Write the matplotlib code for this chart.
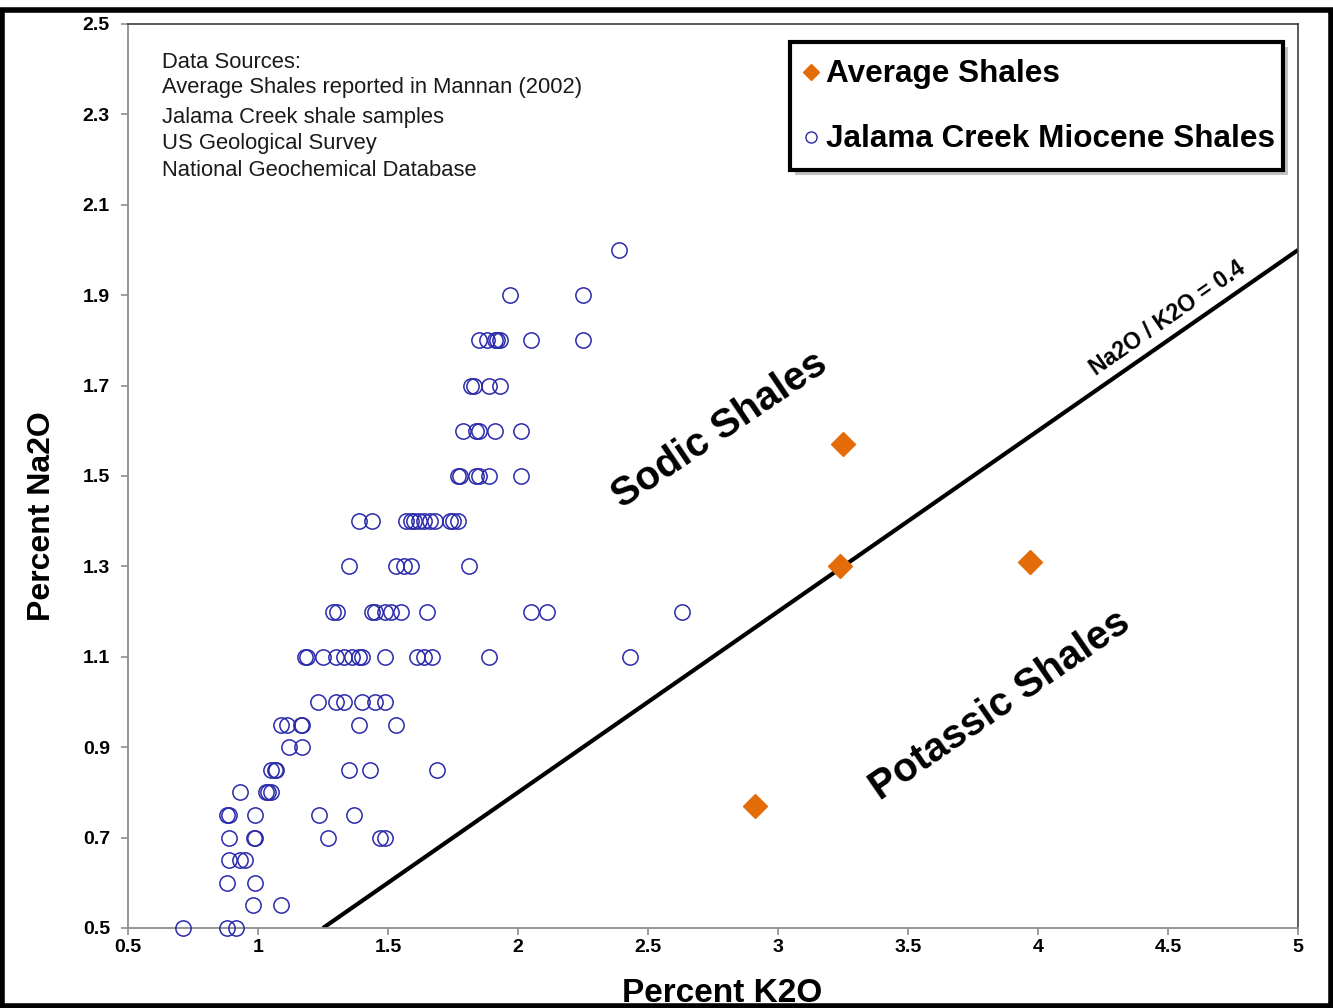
import matplotlib
matplotlib.use("Agg")
import matplotlib.pyplot as plt
from matplotlib.lines import Line2D
from matplotlib.patches import Rectangle

plt.rcParams['font.family'] = ['Liberation Sans', 'DejaVu Sans']

# ---------------- data ----------------
avg_k2o = [3.25, 3.24, 3.97, 2.91]
avg_na2o = [1.57, 1.30, 1.31, 0.77]

jalama_k2o = [
    2.39,
    1.97, 2.25,
    1.85, 1.88, 1.91, 1.92, 1.93, 2.05, 2.25,
    1.82, 1.83, 1.89, 1.93,
    1.79, 1.84, 1.85, 1.91, 2.01,
    1.77, 1.775, 1.84, 1.85, 1.89, 2.01,
    1.39, 1.44, 1.57, 1.59, 1.60, 1.62, 1.64, 1.66, 1.68, 1.74, 1.75, 1.77,
    1.35, 1.53, 1.56, 1.59, 1.81,
    1.29, 1.305, 1.44, 1.45, 1.49, 1.51, 1.55, 1.65, 2.05, 2.11, 2.63,
    1.18, 1.19, 1.25, 1.30, 1.33, 1.36, 1.39, 1.40, 1.49, 1.61, 1.64, 1.67, 1.89, 2.43,
    1.23, 1.30, 1.33, 1.40, 1.45, 1.49,
    1.09, 1.11, 1.165, 1.17, 1.39, 1.53,
    1.12, 1.17,
    1.05, 1.065, 1.07, 1.35, 1.43, 1.69,
    0.93, 1.03, 1.04, 1.05,
    0.88, 0.89, 0.99, 1.235, 1.37,
    0.89, 0.985, 0.99, 1.27, 1.47, 1.49,
    0.89, 0.93, 0.95,
    0.88, 0.99,
    0.98, 1.09,
    0.71, 0.88, 0.915,
]
jalama_na2o = [
    2.0,
    1.9, 1.9,
    1.8, 1.8, 1.8, 1.8, 1.8, 1.8, 1.8,
    1.7, 1.7, 1.7, 1.7,
    1.6, 1.6, 1.6, 1.6, 1.6,
    1.5, 1.5, 1.5, 1.5, 1.5, 1.5,
    1.4, 1.4, 1.4, 1.4, 1.4, 1.4, 1.4, 1.4, 1.4, 1.4, 1.4, 1.4,
    1.3, 1.3, 1.3, 1.3, 1.3,
    1.2, 1.2, 1.2, 1.2, 1.2, 1.2, 1.2, 1.2, 1.2, 1.2, 1.2,
    1.1, 1.1, 1.1, 1.1, 1.1, 1.1, 1.1, 1.1, 1.1, 1.1, 1.1, 1.1, 1.1, 1.1,
    1.0, 1.0, 1.0, 1.0, 1.0, 1.0,
    0.95, 0.95, 0.95, 0.95, 0.95, 0.95,
    0.9, 0.9,
    0.85, 0.85, 0.85, 0.85, 0.85, 0.85,
    0.8, 0.8, 0.8, 0.8,
    0.75, 0.75, 0.75, 0.75, 0.75,
    0.7, 0.7, 0.7, 0.7, 0.7, 0.7,
    0.65, 0.65, 0.65,
    0.6, 0.6,
    0.55, 0.55,
    0.5, 0.5, 0.5,
]

line_k2o = [1.25, 5.0]
line_na2o = [0.5, 2.0]
line_label = "Na2O / K2O = 0.4"

x_ticks = [0.5, 1, 1.5, 2, 2.5, 3, 3.5, 4, 4.5, 5]
x_tick_labels = ["0.5", "1", "1.5", "2", "2.5", "3", "3.5", "4", "4.5", "5"]
y_ticks = [0.5, 0.7, 0.9, 1.1, 1.3, 1.5, 1.7, 1.9, 2.1, 2.3, 2.5]
y_tick_labels = ["0.5", "0.7", "0.9", "1.1", "1.3", "1.5", "1.7", "1.9", "2.1", "2.3", "2.5"]

series_names = ["Average Shales", "Jalama Creek Miocene Shales"]

source_lines = ["Data Sources:", "Average Shales reported in Mannan (2002)",
                "Jalama Creek shale samples", "US Geological Survey",
                "National Geochemical Database"]

# ---------------- figure ----------------
W, H = 1333, 1008
fig = plt.figure(figsize=(W / 100, H / 100), dpi=100)
fig.patch.set_facecolor('white')


def fx(px):
    return px / W


def fy(py):
    return 1 - py / H


left, right, top, bottom = 128, 1298, 24, 928
ax = fig.add_axes([fx(left), fy(bottom), (right - left) / W, (bottom - top) / H])
ax.set_xlim(0.5, 5.0)
ax.set_ylim(0.5, 2.5)

orange = '#E36C09'
blue = '#2a2aaa'

ax.plot(line_k2o, line_na2o, color='black', lw=3.0, solid_capstyle='butt', zorder=2)

ax.plot(jalama_k2o, jalama_na2o, linestyle='none', marker='o', markersize=11,
        markerfacecolor='none', markeredgecolor=blue, markeredgewidth=1.1,
        clip_on=False, zorder=3, label=series_names[1])
ax.plot(avg_k2o, avg_na2o, linestyle='none', marker='D', markersize=12.5,
        markerfacecolor=orange, markeredgecolor=orange, zorder=4,
        label=series_names[0])

# spines
for s in ['top', 'right']:
    ax.spines[s].set_color('#404040')
    ax.spines[s].set_linewidth(1.2)
for s in ['left', 'bottom']:
    ax.spines[s].set_color('#8c8c8c')
    ax.spines[s].set_linewidth(1.3)

ax.set_xticks(x_ticks)
ax.set_xticklabels(x_tick_labels, fontsize=14, fontweight='bold')
ax.set_yticks(y_ticks)
ax.set_yticklabels(y_tick_labels, fontsize=14, fontweight='bold')
ax.tick_params(axis='both', direction='out', length=5, width=1.2, color='#8c8c8c')
ax.tick_params(axis='x', pad=3)
ax.tick_params(axis='y', pad=8)

# axis titles
fig.text(fx(722), fy(994), "Percent K2O", ha='center', va='center',
         fontsize=24, fontweight='bold')
fig.text(fx(42), fy(516), "Percent Na2O", ha='center', va='center',
         rotation=90, fontsize=23, fontweight='bold')

# region labels
ax.text(2.777, 1.602, "Sodic Shales", rotation=34, ha='center', va='center',
        fontsize=29, fontweight='bold', rotation_mode='anchor')
ax.text(3.854, 0.993, "Potassic Shales", rotation=34.5, ha='center', va='center',
        fontsize=29, fontweight='bold', rotation_mode='anchor')
ax.text(4.50, 1.85, line_label, rotation=21.8, transform_rotates_text=True,
        ha='center', va='center', fontsize=16.5, fontweight='bold',
        rotation_mode='anchor')

# data source text
src_y = [62, 88, 118, 144, 170]
for txt, yy in zip(source_lines, src_y):
    fig.text(fx(162), fy(yy), txt, ha='left', va='center', fontsize=15.8,
             color='#1a1a1a')

# legend box (drawn in figure pixels)
lx0, lx1, ly0, ly1 = 790, 1283, 42, 170
fig.patches.append(Rectangle((fx(lx0 + 5), fy(ly1 + 5)), (lx1 - lx0) / W,
                             (ly1 - ly0) / H, transform=fig.transFigure,
                             facecolor='#9a9a9a', edgecolor='none', alpha=0.6,
                             zorder=5))
fig.patches.append(Rectangle((fx(lx0), fy(ly1)), (lx1 - lx0) / W,
                             (ly1 - ly0) / H, transform=fig.transFigure,
                             facecolor='white', edgecolor='black', linewidth=3,
                             zorder=6))
entry_y = [72, 137]
fig.add_artist(Line2D([fx(811)], [fy(entry_y[0])], transform=fig.transFigure,
                      linestyle='none', marker='D', markersize=8,
                      markerfacecolor=orange, markeredgecolor=orange, zorder=7))
fig.add_artist(Line2D([fx(811)], [fy(entry_y[1])], transform=fig.transFigure,
                      linestyle='none', marker='o', markersize=8,
                      markerfacecolor='none', markeredgecolor=blue,
                      markeredgewidth=1.0, zorder=7))
for name, yy in zip(series_names, entry_y):
    fig.text(fx(826), fy(yy + 2), name, ha='left', va='center', fontsize=22.7,
             fontweight='bold', zorder=8)

# outer figure frame
fig.patches.append(Rectangle((2 / W, 2 / H), (W - 4) / W, (H - 12) / H,
                             transform=fig.transFigure, fill=False,
                             edgecolor='black', linewidth=4, zorder=10))

fig.savefig("out.png", dpi=100)
